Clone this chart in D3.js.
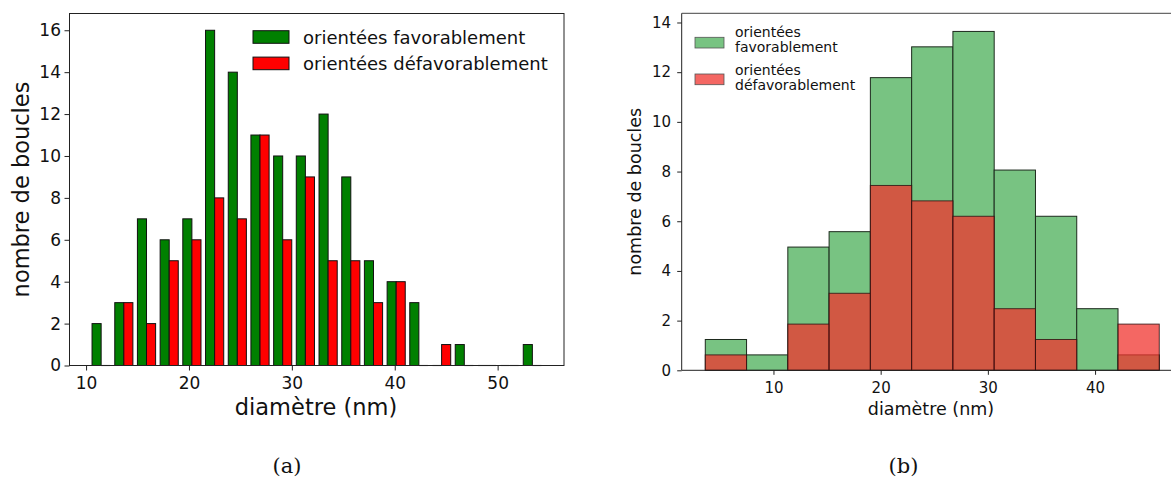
<!DOCTYPE html>
<html>
<head>
<meta charset="utf-8">
<script src="https://cdn.jsdelivr.net/npm/d3@7"></script>
<style>
  html, body { margin: 0; padding: 0; background: #fff; }
  svg { display: block; }
  text { font-family: "DejaVu Sans", sans-serif; fill: #111; }
</style>
</head>
<body>
<svg id="chart" width="1171" height="479"></svg>
<script>
// ---------- data (a) ----------
const binEdgesA = [10.36, 12.57, 14.77, 16.98, 19.18, 21.39, 23.60, 25.80, 28.01, 30.21, 32.42,
                   34.63, 36.83, 39.04, 41.24, 43.45, 45.66, 47.86, 50.07, 52.27, 54.48];
const favA   = [2, 3, 7, 6, 7, 16, 14, 11, 10, 10, 12, 9, 5, 4, 3, 0, 1, 0, 0, 1];
const defavA = [0, 3, 2, 5, 6, 8, 7, 11, 6, 9, 5, 5, 3, 4, 0, 1, 0, 0, 0, 0];
const xTicksA = [10, 20, 30, 40, 50];
const yTicksA = [0, 2, 4, 6, 8, 10, 12, 14, 16];

// ---------- data (b) ----------
const binEdgesB = [3.64, 7.49, 11.34, 15.19, 19.04, 22.89, 26.74, 30.59, 34.44, 38.29, 42.14, 45.99];
const favB   = [1.24, 0.62, 4.96, 5.58, 11.78, 13.02, 13.64, 8.06, 6.20, 2.48, 0.62];
const defavB = [0.62, 0, 1.86, 3.10, 7.44, 6.82, 6.20, 2.48, 1.24, 0, 1.86];
const xTicksB = [10, 20, 30, 40];
const yTicksB = [0, 2, 4, 6, 8, 10, 12, 14];

const legendLabels = ["orientées favorablement", "orientées défavorablement"];
const legendLabelsB = [["orientées", "favorablement"], ["orientées", "défavorablement"]];

const svg = d3.select("#chart");

// ================= Panel (a) =================
(function () {
  const L = 69.5, R = 564, T = 13.5, B = 365.5;
  const x = d3.scaleLinear().domain([8.39, 56.45]).range([L, R]);
  const y = d3.scaleLinear().domain([0, 16.8]).range([B, T]);
  const g = svg.append("g");

  const bins = d3.range(favA.length).map(i => ({
    x0: binEdgesA[i], x1: binEdgesA[i + 1], fav: favA[i], defav: defavA[i]
  }));

  function drawBars(key, off, color) {
    bins.forEach(b => {
      const w = b.x1 - b.x0;
      const xa = x(b.x0 + off * w), xb = x(b.x0 + (off + 0.4) * w);
      const v = b[key];
      if (v > 0) {
        g.append("rect")
          .attr("x", xa).attr("y", y(v))
          .attr("width", xb - xa).attr("height", y(0) - y(v))
          .attr("fill", color).attr("stroke", "#111").attr("stroke-width", 1);
      } else {
        g.append("line")
          .attr("x1", xa).attr("x2", xb).attr("y1", y(0)).attr("y2", y(0))
          .attr("stroke", "#888").attr("stroke-width", 1.2);
      }
    });
  }
  drawBars("fav", 0.1, "#008000");
  drawBars("defav", 0.5, "#ff0000");

  // frame
  g.append("rect").attr("x", L).attr("y", T).attr("width", R - L).attr("height", B - T)
    .attr("fill", "none").attr("stroke", "#222").attr("stroke-width", 1);

  const xa = g.append("g").attr("transform", `translate(0,${B})`)
    .call(d3.axisBottom(x).tickValues(xTicksA).tickSize(5).tickPadding(6).tickFormat(d3.format("d")));
  xa.select(".domain").remove();
  xa.selectAll("line").attr("stroke", "#222");
  xa.selectAll("text").attr("font-size", 17).attr("font-family", "DejaVu Sans").attr("fill", "#111");

  const ya = g.append("g").attr("transform", `translate(${L},0)`)
    .call(d3.axisLeft(y).tickValues(yTicksA).tickSize(5).tickPadding(3.5).tickFormat(d3.format("d")));
  ya.select(".domain").remove();
  ya.selectAll("line").attr("stroke", "#222");
  ya.selectAll("text").attr("font-size", 17).attr("font-family", "DejaVu Sans").attr("fill", "#111");

  g.append("text").attr("x", 316).attr("y", 415)
    .attr("text-anchor", "middle").attr("font-size", 22.5).text("diamètre (nm)");
  g.append("text").attr("transform", `translate(29,${(T + B) / 2}) rotate(-90)`)
    .attr("text-anchor", "middle").attr("font-size", 22.5).text("nombre de boucles");

  // legend
  const colors = ["#008000", "#ff0000"];
  [0, 1].forEach(i => {
    const yy = 30.7 + i * 26.4;
    g.append("rect").attr("x", 253).attr("y", yy).attr("width", 36).attr("height", 12.6)
      .attr("fill", colors[i]).attr("stroke", "#111").attr("stroke-width", 1);
    g.append("text").attr("x", 303).attr("y", 43.5 + i * 26.4)
      .attr("font-size", 18).text(legendLabels[i]);
  });

  svg.append("text").attr("x", 287).attr("y", 473).attr("text-anchor", "middle")
    .attr("font-family", "DejaVu Serif").style("font-family", "DejaVu Serif")
    .attr("font-size", 21).text("(a)");
})();

// ================= Panel (b) =================
(function () {
  const L = 681.7, R = 1181.9, T = 13.3, B = 370.3;
  const x = d3.scaleLinear().domain([1.44, 48.1]).range([L, R]);
  const y = d3.scaleLinear().domain([0, 14.37]).range([B, T]);
  const g = svg.append("g");

  const bins = d3.range(favB.length).map(i => ({
    x0: binEdgesB[i], x1: binEdgesB[i + 1], fav: favB[i], defav: defavB[i]
  }));
  const greenFill = "#78c382";
  const redFill = "rgb(240,50,45)";
  const redOpacity = 0.74;

  bins.forEach(b => {
    if (b.fav > 0)
      g.append("rect").attr("x", x(b.x0)).attr("y", y(b.fav))
        .attr("width", x(b.x1) - x(b.x0)).attr("height", y(0) - y(b.fav))
        .attr("fill", greenFill).attr("stroke", "#1d2a1d").attr("stroke-width", 1);
  });
  bins.forEach(b => {
    if (b.defav > 0)
      g.append("rect").attr("x", x(b.x0)).attr("y", y(b.defav))
        .attr("width", x(b.x1) - x(b.x0)).attr("height", y(0) - y(b.defav))
        .attr("fill", redFill).attr("fill-opacity", redOpacity)
        .attr("stroke", "#2a1010").attr("stroke-opacity", 0.8).attr("stroke-width", 1);
  });

  // spines: left, bottom, top (right out of view)
  g.append("line").attr("x1", L).attr("x2", L).attr("y1", T).attr("y2", B).attr("stroke", "#222");
  g.append("line").attr("x1", L).attr("x2", 1171).attr("y1", B).attr("y2", B).attr("stroke", "#222");
  g.append("line").attr("x1", L).attr("x2", 1171).attr("y1", T).attr("y2", T).attr("stroke", "#444");

  const xa = g.append("g").attr("transform", `translate(0,${B})`)
    .call(d3.axisBottom(x).tickValues(xTicksB).tickSize(4.5).tickPadding(7.8).tickFormat(d3.format("d")));
  xa.select(".domain").remove();
  xa.selectAll("line").attr("stroke", "#222");
  xa.selectAll("text").attr("font-size", 15).attr("font-family", "DejaVu Sans").attr("fill", "#111");

  const ya = g.append("g").attr("transform", `translate(${L},0)`)
    .call(d3.axisLeft(y).tickValues(yTicksB).tickSize(4.5).tickPadding(6.2).tickFormat(d3.format("d")));
  ya.select(".domain").remove();
  ya.selectAll("line").attr("stroke", "#222");
  ya.selectAll("text").attr("font-size", 15).attr("font-family", "DejaVu Sans").attr("fill", "#111");

  g.append("text").attr("x", 931).attr("y", 415)
    .attr("text-anchor", "middle").attr("font-size", 17.5).text("diamètre (nm)");
  g.append("text").attr("transform", `translate(641,${(T + B) / 2}) rotate(-90)`)
    .attr("text-anchor", "middle").attr("font-size", 17.5).text("nombre de boucles");

  // legend
  const lg = g.append("g");
  lg.append("rect").attr("x", 695).attr("y", 37.3).attr("width", 29).attr("height", 10.7)
    .attr("fill", greenFill).attr("stroke", "#555").attr("stroke-width", 0.8);
  lg.append("rect").attr("x", 695).attr("y", 74).attr("width", 29).attr("height", 10.7)
    .attr("fill", redFill).attr("fill-opacity", redOpacity).attr("stroke", "#555").attr("stroke-width", 0.8);
  const baselines = [[37, 52], [74.5, 89.5]];
  legendLabelsB.forEach((lines, i) => {
    lines.forEach((t, j) => {
      lg.append("text").attr("x", 735).attr("y", baselines[i][j]).attr("font-size", 14).text(t);
    });
  });

  svg.append("text").attr("x", 903.5).attr("y", 473).attr("text-anchor", "middle")
    .attr("font-family", "DejaVu Serif").style("font-family", "DejaVu Serif")
    .attr("font-size", 21).text("(b)");
})();
</script>
</body>
</html>
